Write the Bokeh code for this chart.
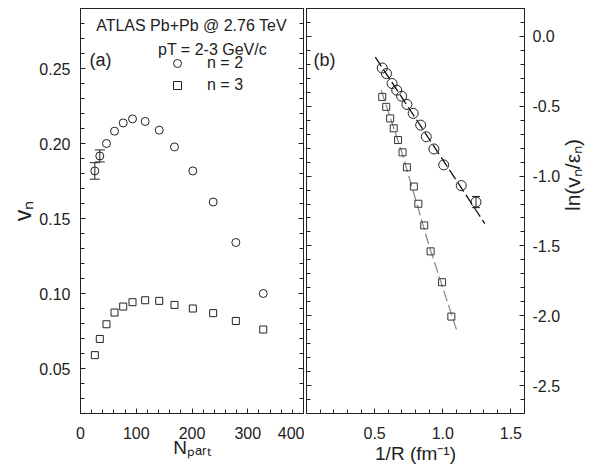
import math
from bokeh.plotting import figure
from bokeh.layouts import row
from bokeh.models import (Range1d, LinearAxis, FixedTicker, PrintfTickFormatter, Label,
                          Legend, LegendItem, Whisker, TeeHead, ColumnDataSource)
from bokeh.embed import file_html
from bokeh.resources import INLINE

# ---------------- data ----------------
npart = [25.7, 34.6, 46.6, 61.0, 76.6, 93.3, 116.0, 141.2, 168.6, 201.5, 238.0, 278.6, 327.8]
v2 = [0.1817, 0.1917, 0.2000, 0.2082, 0.2137, 0.2164, 0.2147, 0.2089, 0.1977, 0.1817, 0.1610, 0.1340, 0.1000]
v2_err = [0.0055, 0.0040, 0, 0, 0, 0, 0, 0, 0, 0, 0, 0, 0]
v3 = [0.0589, 0.0697, 0.0795, 0.0873, 0.0913, 0.0942, 0.0955, 0.0951, 0.0924, 0.0900, 0.0869, 0.0817, 0.0760]

inv_r_n2 = [0.556, 0.587, 0.628, 0.662, 0.698, 0.737, 0.783, 0.838, 0.879, 0.935, 1.007, 1.136, 1.244]
ln_n2 = [-0.226, -0.266, -0.337, -0.385, -0.428, -0.487, -0.551, -0.635, -0.718, -0.806, -0.920, -1.068, -1.186]
ln_n2_err = [0, 0, 0, 0, 0, 0, 0, 0, 0, 0, 0, 0, 0.04]
inv_r_n3 = [0.556, 0.585, 0.614, 0.640, 0.672, 0.705, 0.737, 0.788, 0.821, 0.864, 0.911, 0.995, 1.063]
ln_n3 = [-0.433, -0.504, -0.587, -0.658, -0.742, -0.830, -0.937, -1.075, -1.198, -1.353, -1.539, -1.760, -2.006]

fit_n2_x = [0.505, 1.309]
fit_n2_y = [-0.148, -1.341]
fit_n3_x = [0.548, 0.70, 0.90, 1.104]
fit_n3_y = [-0.385, -0.83, -1.50, -2.109]

left_xticks = [0, 100, 200, 300, 400]
left_yticks = [0.05, 0.10, 0.15, 0.20, 0.25]
right_xticks = [0.5, 1.0, 1.5]
right_yticks = [0.0, -0.5, -1.0, -1.5, -2.0, -2.5]

FONT = "Liberation Sans"
INK = "#222222"

def style_axis(ax, ticks, minor, fmt=None, labels=True, standoff=8):
    ax.ticker = FixedTicker(ticks=ticks, minor_ticks=minor)
    if fmt:
        ax.formatter = PrintfTickFormatter(format=fmt)
    ax.axis_line_color = INK
    ax.major_tick_line_color = INK
    ax.minor_tick_line_color = INK
    ax.major_tick_in = 5
    ax.major_tick_out = 0
    ax.minor_tick_in = 4
    ax.minor_tick_out = 0
    ax.major_label_text_font = FONT
    ax.major_label_text_color = INK
    ax.major_label_text_font_size = "16px"
    if labels:
        ax.major_label_standoff = standoff
    else:
        ax.major_label_overrides = {t: "" for t in ticks}
        ax.major_label_standoff = 0
    ax.axis_label = None

def set_axis_label(ax, text, size, standoff, orientation=None):
    ax.axis_label = text
    ax.axis_label_text_font = FONT
    ax.axis_label_text_font_size = f"{size}px"
    ax.axis_label_text_font_style = "normal"
    ax.axis_label_text_color = INK
    ax.axis_label_standoff = standoff
    if orientation is not None and "axis_label_orientation" in ax.properties():
        ax.axis_label_orientation = orientation

def add_text(p, x, y, text, size, align="left"):
    p.add_layout(Label(x=x, y=y, x_units="screen", y_units="screen", text=text,
                       text_font=FONT, text_font_size=f"{size}px", text_color=INK,
                       text_align=align, text_baseline="alphabetic"))

def base_fig(xr, yr, width, mbl, mbr, yloc):
    p = figure(x_range=xr, y_range=yr, width=width, height=472,
               output_backend="svg", toolbar_location=None,
               min_border_left=mbl, min_border_right=mbr,
               min_border_top=8, min_border_bottom=59,
               y_axis_location=yloc)
    p.xgrid.visible = False
    p.ygrid.visible = False
    p.outline_line_color = INK
    p.outline_line_width = 1
    p.background_fill_color = "white"
    p.border_fill_color = "white"
    return p

# ---------------- left panel ----------------
p1 = base_fig(Range1d(0, 400), Range1d(0.02, 0.29), 304, 80, 1, "left")
style_axis(p1.xaxis[0], left_xticks, list(range(0, 401, 20)), standoff=13)
style_axis(p1.yaxis[0], left_yticks, [round(0.02 + 0.01 * i, 2) for i in range(28)], "%.2f", standoff=10)
set_axis_label(p1.yaxis[0], "v\u2099", 23, 0)
set_axis_label(p1.xaxis[0], "N\u209a\u2090\u1d63\u209c", 19, -5)
ax_r1 = LinearAxis()
p1.add_layout(ax_r1, "right")
style_axis(ax_r1, left_yticks, [round(0.02 + 0.01 * i, 2) for i in range(28)], labels=False)

src_e1 = ColumnDataSource(dict(
    x=[a for a, e in zip(npart, v2_err) if e > 0],
    lo=[v - e for v, e in zip(v2, v2_err) if e > 0],
    hi=[v + e for v, e in zip(v2, v2_err) if e > 0]))
p1.add_layout(Whisker(source=src_e1, base="x", lower="lo", upper="hi", dimension="height",
                      line_color=INK, line_width=1,
                      lower_head=TeeHead(size=10, line_color=INK, line_width=1),
                      upper_head=TeeHead(size=10, line_color=INK, line_width=1)))
r_c = p1.scatter(npart, v2, marker="circle", size=8, fill_color=None, line_color=INK, line_width=1)
r_s = p1.scatter(npart, v3, marker="square", size=7, fill_color=None, line_color=INK, line_width=1)

legend = Legend(items=[LegendItem(label="n = 2", renderers=[r_c]),
                       LegendItem(label="n = 3", renderers=[r_s])],
                location=(87, 317), padding=0, margin=0, spacing=0,
                glyph_width=20, glyph_height=22, label_height=22, label_standoff=20,
                label_text_font=FONT, label_text_font_size="16px", label_text_color=INK,
                border_line_alpha=0, background_fill_alpha=0)
p1.add_layout(legend, "center")

add_text(p1, 111, 388, "ATLAS Pb+Pb @ 2.76 TeV", 16, align="center")
add_text(p1, 132, 364, "pT = 2-3 GeV/c", 16, align="center")
add_text(p1, 9, 354, "(a)", 18)

# ---------------- right panel ----------------
p2 = base_fig(Range1d(0, 1.6), Range1d(-2.7, 0.2), 294, 2, 71, "right")
style_axis(p2.xaxis[0], right_xticks, [round(0.1 * i, 1) for i in range(17)], "%.1f", standoff=13)
style_axis(p2.yaxis[0], right_yticks, [round(-2.7 + 0.1 * i, 1) for i in range(30)], "%.1f", standoff=8)
set_axis_label(p2.xaxis[0], "1/R (fm\u207b\u00b9)", 19, 1)
set_axis_label(p2.yaxis[0], "ln(v\u2099/\u03b5\u2099)", 21, 9, orientation=math.pi / 2)
ax_l2 = LinearAxis()
p2.add_layout(ax_l2, "left")
style_axis(ax_l2, right_yticks, [round(-2.7 + 0.1 * i, 1) for i in range(30)], labels=False)

p2.line(fit_n2_x, fit_n2_y, line_color="#111111", line_width=1.3, line_dash="11 4")
p2.line(fit_n3_x, fit_n3_y, line_color="#8c8c8c", line_width=1.3, line_dash="11 4")

src_e2 = ColumnDataSource(dict(
    x=[a for a, e in zip(inv_r_n2, ln_n2_err) if e > 0],
    lo=[v - e for v, e in zip(ln_n2, ln_n2_err) if e > 0],
    hi=[v + e for v, e in zip(ln_n2, ln_n2_err) if e > 0]))
p2.add_layout(Whisker(source=src_e2, base="x", lower="lo", upper="hi", dimension="height",
                      line_color=INK, line_width=1,
                      lower_head=TeeHead(size=8, line_color=INK, line_width=1),
                      upper_head=TeeHead(size=8, line_color=INK, line_width=1)))
p2.scatter(inv_r_n2, ln_n2, marker="circle", size=10, fill_color=None, line_color=INK, line_width=1)
p2.scatter(inv_r_n3, ln_n3, marker="square", size=7, fill_color=None, line_color="#333333", line_width=1)

add_text(p2, 7, 354, "(b)", 18)

layout = row(p1, p2)
open("out.html", "w").write(file_html(layout, INLINE))
